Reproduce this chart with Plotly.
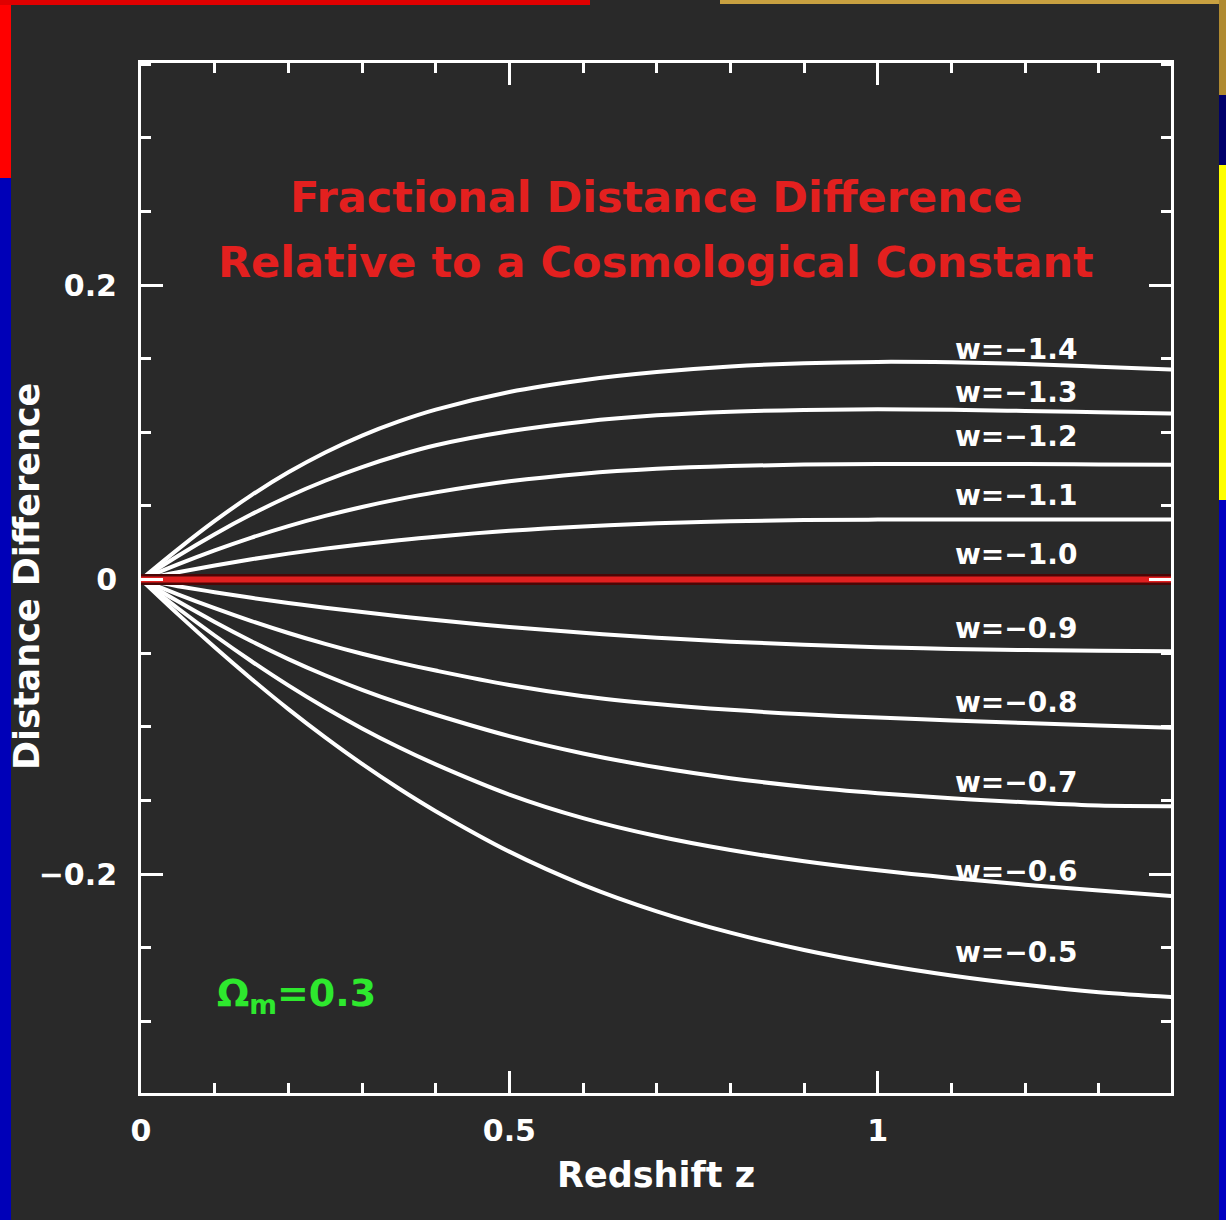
import plotly.graph_objects as go

# ---------------- data ----------------
z = [0.0, 0.05, 0.1, 0.15, 0.2, 0.25, 0.3, 0.35, 0.4, 0.5, 0.6, 0.7, 0.8, 0.9, 1.0, 1.1, 1.2, 1.3, 1.4]

w_m14 = [0.0, 0.0205, 0.0398, 0.0573, 0.0728, 0.0863, 0.0978, 0.1074, 0.1154, 0.1274, 0.1354, 0.1409, 0.1447, 0.1469, 0.1478, 0.1475, 0.1464, 0.1446, 0.1426]
w_m13 = [0.0, 0.016, 0.0308, 0.0443, 0.0564, 0.0671, 0.0764, 0.0844, 0.0912, 0.1007, 0.1072, 0.1115, 0.114, 0.1152, 0.1156, 0.1153, 0.1145, 0.1136, 0.1127]
w_m12 = [0.0, 0.0103, 0.0198, 0.0285, 0.0363, 0.0432, 0.0493, 0.0546, 0.0592, 0.0667, 0.0719, 0.0752, 0.0771, 0.0781, 0.0785, 0.0785, 0.0784, 0.0782, 0.078]
w_m11 = [0.0, 0.005, 0.0096, 0.0138, 0.0176, 0.021, 0.024, 0.0267, 0.0291, 0.0331, 0.0361, 0.0382, 0.0396, 0.0404, 0.0407, 0.0408, 0.0408, 0.0408, 0.0407]
w_m10 = [0.0] * 19
w_m09 = [0.0, -0.0045, -0.0086, -0.0124, -0.0159, -0.0191, -0.0221, -0.0249, -0.0275, -0.0322, -0.0362, -0.0395, -0.0422, -0.0443, -0.0459, -0.0471, -0.0479, -0.0484, -0.0487]
w_m08 = [0.0, -0.010, -0.0194, -0.0282, -0.0363, -0.0437, -0.0504, -0.0564, -0.0618, -0.0716, -0.0792, -0.0845, -0.0885, -0.0915, -0.0937, -0.0957, -0.0975, -0.0992, -0.1007]
w_m07 = [0.0, -0.0148, -0.0288, -0.0419, -0.054, -0.065, -0.0749, -0.0838, -0.0918, -0.1063, -0.1181, -0.1275, -0.1349, -0.1407, -0.1451, -0.1486, -0.1513, -0.1535, -0.1539]
w_m06 = [0.0, -0.0195, -0.038, -0.0555, -0.0719, -0.0871, -0.1011, -0.1139, -0.1255, -0.146, -0.162, -0.1742, -0.1837, -0.1913, -0.1975, -0.2027, -0.2072, -0.2112, -0.2150]
w_m05 = [0.0, -0.0235, -0.046, -0.0675, -0.088, -0.1072, -0.1252, -0.1419, -0.1573, -0.1848, -0.2073, -0.2253, -0.2398, -0.2516, -0.2611, -0.2689, -0.2752, -0.2802, -0.2835]

white_series = [w_m14, w_m13, w_m12, w_m11, w_m09, w_m08, w_m07, w_m06, w_m05]

label_texts = ["w=−1.4", "w=−1.3", "w=−1.2", "w=−1.1", "w=−1.0",
               "w=−0.9", "w=−0.8", "w=−0.7", "w=−0.6", "w=−0.5"]
label_y = [0.156, 0.127, 0.097, 0.057, 0.017, -0.0333, -0.0835, -0.138, -0.198, -0.253]
label_x = 1.102

title_lines = ["Fractional Distance Difference", "Relative to a Cosmological Constant"]
x_title = "Redshift z"
y_title = "Distance Difference"
omega_text = "Ω<sub>m</sub>=0.3"

x_ticks = [0, 0.5, 1]
x_ticktext = ["0", "0.5", "1"]
y_ticks = [-0.2, 0, 0.2]
y_ticktext = ["−0.2", "0", "0.2"]

# ---------------- figure ----------------
W, H = 1226, 1220
L, R, T, B = 141, 55, 63, 127
PW, PH = W - L - R, H - T - B
BG = "#292929"
FONT = "DejaVu Sans"


def px(x):
    return (x - L) / PW


def py(y):
    return (H - B - y) / PH


fig = go.Figure()

for ys in white_series:
    fig.add_trace(go.Scatter(x=z, y=ys, mode="lines",
                             line=dict(color="white", width=4, shape="spline", smoothing=1.0),
                             showlegend=False, hoverinfo="skip"))

fig.add_trace(go.Scatter(x=z, y=w_m10, mode="lines", line=dict(color="#4a0606", width=11),
                         showlegend=False, hoverinfo="skip"))
fig.add_trace(go.Scatter(x=z, y=w_m10, mode="lines", line=dict(color="#e02020", width=6),
                         showlegend=False, hoverinfo="skip"))

annotations = []
for t, yv in zip(label_texts, label_y):
    annotations.append(dict(x=label_x, y=yv, xref="x", yref="y", text="<b>" + t + "</b>", showarrow=False,
                            xanchor="left", yanchor="middle",
                            font=dict(family=FONT, size=28, color="white")))

for line, ycen in zip(title_lines, [197, 262]):
    annotations.append(dict(x=0.5, y=py(ycen), xref="paper", yref="paper", text="<b>" + line + "</b>",
                            showarrow=False, xanchor="center", yanchor="middle",
                            font=dict(family=FONT, size=43, color="#e3201f")))

annotations.append(dict(x=0.1, y=-0.2824, xref="x", yref="y", text="<b>" + omega_text + "</b>", showarrow=False,
                        xanchor="left", yanchor="middle",
                        font=dict(family=FONT, size=38, color="#2ee82e")))

annotations.append(dict(x=0.5, y=py(1175), xref="paper", yref="paper", text="<b>" + x_title + "</b>",
                        showarrow=False, xanchor="center", yanchor="middle",
                        font=dict(family=FONT, size=35, color="white")))
annotations.append(dict(x=px(27), y=py(577), xref="paper", yref="paper", text="<b>" + y_title + "</b>",
                        showarrow=False, xanchor="center", yanchor="middle", textangle=-90,
                        font=dict(family=FONT, size=35, color="white")))

strips = [
    (0, 0, 11, 178, "#ff0000"),
    (0, 178, 11, 1220, "#0000b8"),
    (0, 0, 590, 5, "#e00000"),
    (720, 0, 1226, 4, "#c8a040"),
    (1219, 0, 1226, 95, "#b08a30"),
    (1219, 95, 1226, 165, "#00006a"),
    (1219, 165, 1226, 500, "#ffff00"),
    (1219, 500, 1226, 1220, "#0000c0"),
]
shapes = []
for x0, y0, x1, y1, c in strips:
    shapes.append(dict(type="rect", xref="paper", yref="paper", x0=px(x0), x1=px(x1), y0=py(y1), y1=py(y0),
                       fillcolor=c, line=dict(width=0), layer="below"))

axis_common = dict(showgrid=False, zeroline=False, showline=True, linecolor="white", linewidth=3,
                   mirror="allticks", ticks="inside", tickcolor="white", tickwidth=3, ticklen=22,
                   automargin=False,
                   tickfont=dict(family=FONT, size=30, color="white", weight="bold"))

fig.update_layout(
    width=W, height=H,
    margin=dict(l=L, r=R, t=T, b=B, pad=0),
    paper_bgcolor=BG, plot_bgcolor=BG,
    showlegend=False,
    annotations=annotations,
    shapes=shapes,
    xaxis=dict(range=[0, 1.398], tickvals=x_ticks, ticktext=x_ticktext, ticklabelstandoff=9,
               minor=dict(dtick=0.1, tick0=0, ticks="inside", ticklen=10, tickwidth=3, tickcolor="white", showgrid=False),
               **axis_common),
    yaxis=dict(range=[-0.3487, 0.3508], tickvals=y_ticks, ticktext=y_ticktext, ticklabelstandoff=15,
               minor=dict(dtick=0.05, tick0=0, ticks="inside", ticklen=10, tickwidth=3, tickcolor="white", showgrid=False),
               **axis_common),
)

fig.write_html("out.html")
